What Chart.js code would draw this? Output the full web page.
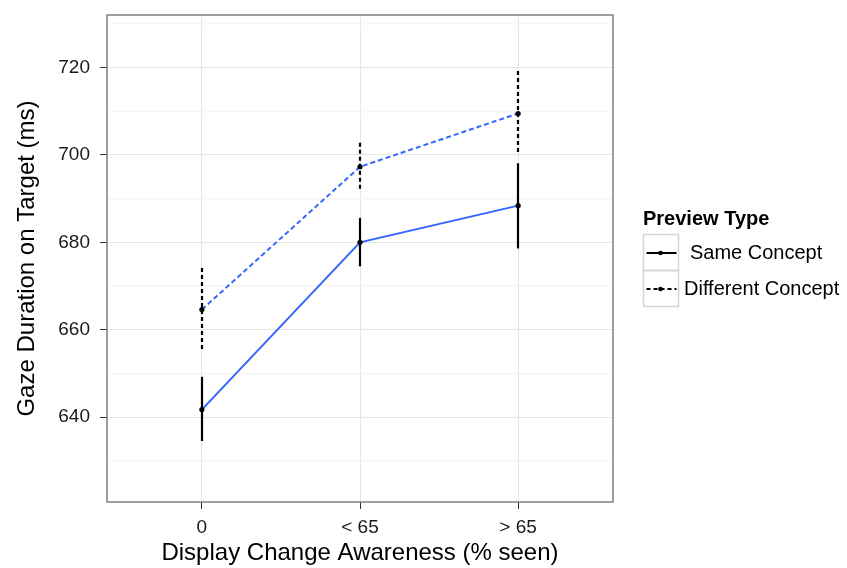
<!DOCTYPE html>
<html>
<head>
<meta charset="utf-8">
<script src="https://cdn.jsdelivr.net/npm/chart.js@4.4.1/dist/chart.umd.min.js"></script>
<style>
  html, body { margin: 0; padding: 0; background: #fff; }
  #wrap { width: 847px; height: 568px; position: relative; }
</style>
</head>
<body>
<div id="wrap"><canvas id="chart" width="847" height="568"></canvas></div>
<script>
// categories on the x axis
const categories = ['0', '< 65', '> 65']
const xPos = [0, 1, 2]

// Same Concept: mean and error bar ends
const sameMean = [641.7, 680.0, 688.4]
const sameLo = [634.5, 674.5, 678.6]
const sameHi = [649.2, 685.6, 698.1]

// Different Concept: mean and error bar ends
const diffMean = [664.6, 697.3, 709.5]
const diffLo = [655.6, 691.9, 700.2]
const diffHi = [674.1, 702.8, 719.2]

// y ticks: major (labelled) and minor grid
const yTicks = [630, 640, 650, 660, 670, 680, 690, 700, 710, 720, 730]
const yLabelled = [640, 660, 680, 700, 720]

const seriesNames = ['Same Concept', 'Different Concept']
const legendTitle = 'Preview Type'

const FONT = "'Liberation Sans', Arial, Helvetica, sans-serif"
const BLUE = '#3366ff'

const barSets = [
  { lo: sameLo, hi: sameHi, dash: [] },
  { lo: diffLo, hi: diffHi, dash: [4, 3] },
]

const framePlugin = {
  id: 'frame',
  afterDraw(chart) {
    const { ctx, chartArea: a, scales: { x, y } } = chart
    ctx.save()

    // error bars
    ctx.strokeStyle = '#000'
    ctx.lineWidth = 2.2
    barSets.forEach((eb) => {
      ctx.setLineDash(eb.dash)
      xPos.forEach((v, i) => {
        const px = Math.round(x.getPixelForValue(v))
        ctx.beginPath()
        ctx.moveTo(px, y.getPixelForValue(eb.hi[i]))
        ctx.lineTo(px, y.getPixelForValue(eb.lo[i]))
        ctx.stroke()
      })
    })
    ctx.setLineDash([])

    // panel border
    ctx.strokeStyle = '#7f7f7f'
    ctx.lineWidth = 1.5
    ctx.strokeRect(a.left, a.top, a.right - a.left, a.bottom - a.top)

    // legend
    ctx.fillStyle = '#000'
    ctx.font = `bold 20px ${FONT}`
    ctx.textBaseline = 'alphabetic'
    ctx.fillText(legendTitle, 643, 225)

    const boxX = 643.5, boxW = 35, boxH = 36
    const rows = [{ top: 234.5, dash: [] }, { top: 270.5, dash: [4, 3] }]
    ctx.font = `20px ${FONT}`
    ctx.textBaseline = 'middle'
    rows.forEach((r, i) => {
      ctx.strokeStyle = '#d4d4d4'
      ctx.lineWidth = 1.5
      ctx.setLineDash([])
      ctx.strokeRect(boxX, r.top, boxW, boxH)
      const cy = Math.round(r.top + boxH / 2)
      ctx.strokeStyle = '#000'
      ctx.lineWidth = 2
      ctx.setLineDash(r.dash)
      ctx.beginPath()
      ctx.moveTo(boxX + 3, cy)
      ctx.lineTo(boxX + boxW - 2, cy)
      ctx.stroke()
      ctx.setLineDash([])
      ctx.beginPath()
      ctx.arc(boxX + 17, cy, 2.3, 0, Math.PI * 2)
      ctx.fillStyle = '#000'
      ctx.fill()
      ctx.fillText(seriesNames[i], i === 0 ? 690 : 684, cy)
    })
    ctx.restore()
  },
}

const lineDataset = (label, means, dash) => ({
  label,
  data: xPos.map((v, i) => ({ x: v, y: means[i] })),
  borderColor: BLUE,
  borderWidth: 2,
  borderDash: dash,
  pointRadius: 2.6,
  pointBackgroundColor: '#000',
  pointBorderWidth: 0,
  tension: 0,
  fill: false,
})

new Chart(document.getElementById('chart'), {
  type: 'line',
  data: {
    datasets: [
      lineDataset(seriesNames[0], sameMean, []),
      lineDataset(seriesNames[1], diffMean, [5, 3]),
    ],
  },
  options: {
    responsive: false,
    animation: false,
    layout: { padding: { top: 15, right: 234, bottom: 0, left: 0 } },
    plugins: {
      legend: { display: false },
      tooltip: { enabled: false },
    },
    scales: {
      x: {
        type: 'linear',
        min: -0.6,
        max: 2.6,
        afterBuildTicks: (s) => { s.ticks = xPos.map((v) => ({ value: v })) },
        afterFit: (s) => { s.height = 66; s.paddingLeft = 0; s.paddingRight = 0 },
        ticks: {
          callback: (v) => categories[v],
          color: '#1a1a1a',
          font: { family: FONT, size: 19 },
          padding: 7,
          maxRotation: 0,
        },
        grid: { color: '#e5e5e5', lineWidth: 1, tickLength: 7, tickColor: '#333', tickWidth: 1 },
        border: { display: false },
        title: {
          display: true,
          text: 'Display Change Awareness (% seen)',
          color: '#000',
          font: { family: FONT, size: 24 },
          padding: { top: 0, bottom: 0 },
        },
      },
      y: {
        min: 620.54,
        max: 732.05,
        afterBuildTicks: (s) => { s.ticks = yTicks.map((v) => ({ value: v })) },
        afterFit: (s) => { s.width = 107; s.paddingTop = 0; s.paddingBottom = 0 },
        ticks: {
          callback: (v) => (yLabelled.includes(v) ? String(v) : ''),
          color: '#1a1a1a',
          font: { family: FONT, size: 19 },
          padding: 10,
        },
        grid: {
          color: (c) => (yLabelled.includes(c.tick.value) ? '#e5e5e5' : '#f5f5f5'),
          lineWidth: (c) => (yLabelled.includes(c.tick.value) ? 1 : 1.5),
          tickLength: 7,
          tickColor: (c) => (yLabelled.includes(c.tick.value) ? '#333' : 'rgba(0,0,0,0)'),
          tickWidth: 1,
        },
        border: { display: false },
        title: {
          display: true,
          text: 'Gaze Duration on Target (ms)',
          color: '#000',
          font: { family: FONT, size: 24 },
          padding: { top: 13, bottom: 0 },
        },
      },
    },
  },
  plugins: [framePlugin],
})
</script>
</body>
</html>
